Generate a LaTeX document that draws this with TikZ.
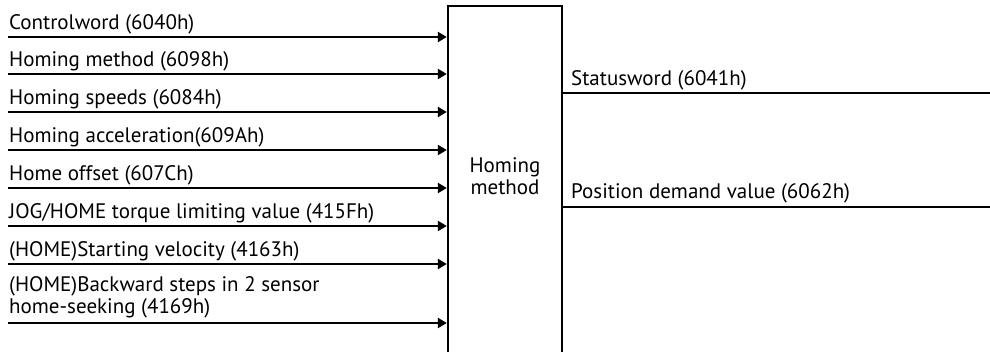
\documentclass[tikz,border=0pt]{standalone}
\usepackage{fontspec}
\setmainfont{PT Sans}
\usetikzlibrary{arrows.meta}

\begin{document}
\begin{tikzpicture}[x=1pt,y=-1pt,line width=2.4pt,
  every node/.style={font=\fontsize{21}{22}\selectfont,inner sep=0pt},
  lbl/.style={anchor=base west},
  inarrow/.style={-{Triangle[length=9pt,width=10pt]}}]

\clip (0,0) rectangle (990,352);

\node [draw,minimum width=114pt,minimum height=352pt] (hm) at (505,182) {};
\node [align=center] (hmtext) at (505,176) {Homing\\method};

\coordinate (in1) at (8,37);
\coordinate (in2) at (8,74);
\coordinate (in3) at (8,112);
\coordinate (in4) at (8,150);
\coordinate (in5) at (8,188);
\coordinate (in6) at (8,226);
\coordinate (in7) at (8,264);
\coordinate (in8) at (8,323);

\node [lbl] (cw) at (8,30) {Controlword (6040h)};
\node [lbl] (hmeth) at (8,67) {Homing method (6098h)};
\node [lbl] (hspd) at (8,105) {Homing speeds (6084h)};
\node [lbl] (hacc) at (8,143) {Homing acceleration(609Ah)};
\node [lbl] (hoff) at (8,181) {Home offset (607Ch)};
\node [lbl] (tlim) at (8,219) {JOG/HOME torque limiting value (415Fh)};
\node [lbl] (svel) at (8,257) {(HOME)Starting velocity (4163h)};
\node [lbl,align=left] (bstep) at (8,314) {(HOME)Backward steps in 2 sensor\\home-seeking (4169h)};

\draw[inarrow] (in1) -- (hm.west |- in1);
\draw[inarrow] (in2) -- (hm.west |- in2);
\draw[inarrow] (in3) -- (hm.west |- in3);
\draw[inarrow] (in4) -- (hm.west |- in4);
\draw[inarrow] (in5) -- (hm.west |- in5);
\draw[inarrow] (in6) -- (hm.west |- in6);
\draw[inarrow] (in7) -- (hm.west |- in7);
\draw[inarrow] (in8) -- (hm.west |- in8);

\coordinate (out1) at (990,93);
\coordinate (out2) at (990,207);

\node [lbl] (sw) at (570,86) {Statusword (6041h)};
\node [lbl] (pdv) at (570,199) {Position demand value (6062h)};

\draw (hm.east |- out1) -- (out1);
\draw (hm.east |- out2) -- (out2);

\end{tikzpicture}
\end{document}
